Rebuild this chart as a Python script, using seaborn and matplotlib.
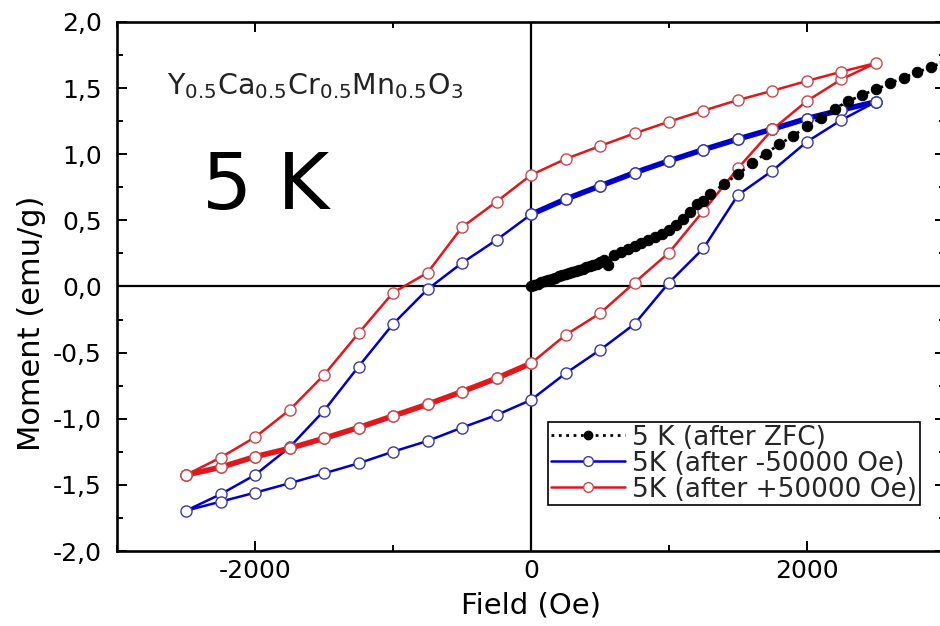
import matplotlib
matplotlib.use("Agg")
import matplotlib.pyplot as plt
from matplotlib.ticker import MultipleLocator, FuncFormatter
from matplotlib.lines import Line2D
import seaborn as sns
import pandas as pd

# ---------------- data ----------------
# ZFC virgin curve
zfc_x = [0, 25, 50, 75, 100, 125, 150, 175, 200, 225, 250, 275, 300, 325, 350,
         375, 400, 425, 450, 475, 500, 530, 557, 600, 650, 700, 750, 800, 850,
         900, 950, 1000, 1050, 1100, 1150, 1200, 1250, 1300, 1400, 1500, 1600,
         1700, 1800, 1900, 2000, 2100, 2200, 2300, 2400, 2500, 2600, 2700, 2800,
         2900, 3000]
zfc_y = [0.0, 0.010, 0.022, 0.032, 0.043, 0.050, 0.058, 0.067, 0.076, 0.084,
         0.093, 0.102, 0.110, 0.118, 0.127, 0.135, 0.145, 0.153, 0.163, 0.172,
         0.185, 0.200, 0.165, 0.235, 0.260, 0.283, 0.305, 0.326, 0.348, 0.372,
         0.400, 0.430, 0.465, 0.510, 0.560, 0.620, 0.645, 0.700, 0.775, 0.850,
         0.930, 1.005, 1.075, 1.140, 1.210, 1.275, 1.345, 1.400, 1.450, 1.490,
         1.535, 1.580, 1.620, 1.660, 1.700]

# after -50000 Oe (blue)
blue_init_x = [0, 250, 500, 750, 1000, 1250, 1500, 1750, 2000, 2250, 2500]
blue_init_y = [0.545, 0.660, 0.760, 0.860, 0.950, 1.035, 1.115, 1.190, 1.270, 1.335, 1.397]
blue_desc_x = [2500, 2250, 2000, 1750, 1500, 1250, 1000, 750, 500, 250, 0,
               -250, -500, -750, -1000, -1250, -1500, -1750, -2000, -2250, -2500]
blue_desc_y = [1.397, 1.335, 1.270, 1.190, 1.115, 1.035, 0.950, 0.860, 0.760, 0.660, 0.545,
               0.352, 0.178, -0.021, -0.284, -0.606, -0.939, -1.216, -1.425, -1.571, -1.695]
blue_asc_x = [-2500, -2250, -2000, -1750, -1500, -1250, -1000, -750, -500, -250, 0,
              250, 500, 750, 1000, 1250, 1500, 1750, 2000, 2250, 2500]
blue_asc_y = [-1.695, -1.627, -1.559, -1.488, -1.413, -1.337, -1.249, -1.168, -1.067, -0.972, -0.858,
              -0.657, -0.480, -0.284, 0.029, 0.289, 0.692, 0.876, 1.095, 1.259, 1.397]

# after +50000 Oe (red)
red_init_x = [0, -250, -500, -750, -1000, -1250, -1500, -1750, -2000, -2250, -2500]
red_init_y = [-0.581, -0.694, -0.795, -0.891, -0.979, -1.067, -1.148, -1.224, -1.287, -1.367, -1.425]
red_asc_x = [-2500, -2250, -2000, -1750, -1500, -1250, -1000, -750, -500, -250, 0,
             250, 500, 750, 1000, 1250, 1500, 1750, 2000, 2250, 2500]
red_asc_y = [-1.425, -1.367, -1.287, -1.224, -1.148, -1.067, -0.979, -0.891, -0.795, -0.694, -0.581,
             -0.367, -0.203, 0.029, 0.256, 0.573, 0.894, 1.188, 1.403, 1.567, 1.690]
red_desc_x = [2500, 2250, 2000, 1750, 1500, 1250, 1000, 750, 500, 250, 0,
              -250, -500, -750, -1000, -1250, -1500, -1750, -2000, -2250, -2500]
red_desc_y = [1.690, 1.624, 1.554, 1.480, 1.410, 1.330, 1.246, 1.158, 1.062, 0.964, 0.843,
              0.641, 0.448, 0.104, -0.047, -0.354, -0.669, -0.934, -1.140, -1.294, -1.425]

y_ticks = [-2.0, -1.5, -1.0, -0.5, 0.0, 0.5, 1.0, 1.5, 2.0]
x_ticks = [-2000, 0, 2000]
labels = ["5 K (after ZFC)", "5K (after -50000 Oe)", "5K (after +50000 Oe)"]

# ---------------- styling ----------------
sns.set_theme(style="ticks")
plt.rcParams["font.family"] = ["DejaVu Sans"]
plt.rcParams["axes.unicode_minus"] = False
plt.rcParams["mathtext.default"] = "regular"

BLUE = "#0000cc"
BLUE_M = "#3a3aa0"
RED = "#e3161b"
RED_M = "#c8484c"

fig = plt.figure(figsize=(9.4, 6.26), dpi=100)
ax = fig.add_axes([0.1245, 0.1198, 1.0053 - 0.1245, 0.9649 - 0.1198])

ax.axhline(0, color="black", lw=1.6, zorder=1)
ax.axvline(0, color="black", lw=1.6, zorder=1)


def loop(xs, ys, color, mec, lw, z):
    df = pd.DataFrame({"x": xs, "y": ys})
    sns.lineplot(data=df, x="x", y="y", sort=False, estimator=None, ax=ax,
                 color=color, lw=lw, marker="o", markersize=8,
                 markerfacecolor="white", markeredgecolor=mec,
                 markeredgewidth=1.0, zorder=z)


loop(blue_init_x, blue_init_y, BLUE, BLUE_M, 4.0, 3)
loop(blue_desc_x + blue_asc_x[1:], blue_desc_y + blue_asc_y[1:], BLUE, BLUE_M, 1.8, 3)
loop(red_init_x, red_init_y, RED, RED_M, 4.0, 3)
loop(red_asc_x + red_desc_x[1:], red_asc_y + red_desc_y[1:], RED, RED_M, 1.8, 3)

zdf = pd.DataFrame({"x": zfc_x, "y": zfc_y})
sns.lineplot(data=zdf, x="x", y="y", sort=False, estimator=None, ax=ax,
             color="black", lw=2.0, linestyle=":", marker="o", markersize=7.5,
             markerfacecolor="black", markeredgecolor="black", zorder=4)

ax.set_xlim(-3000, 3000)
ax.set_ylim(-2.0, 2.0)
ax.set_xticks(x_ticks)
ax.set_yticks(y_ticks)
ax.xaxis.set_minor_locator(MultipleLocator(1000))
ax.yaxis.set_minor_locator(MultipleLocator(0.25))
ax.yaxis.set_major_formatter(FuncFormatter(lambda v, p: f"{v:.1f}".replace(".", ",")))
ax.xaxis.set_major_formatter(FuncFormatter(lambda v, p: f"{v:.0f}"))

for s in ax.spines.values():
    s.set_linewidth(1.9)
    s.set_color("black")
ax.tick_params(which="both", direction="in", top=True, right=True,
               colors="black", width=1.4)
ax.tick_params(which="major", length=7, labelsize=18)
ax.tick_params(axis="y", which="major", pad=11)
ax.tick_params(axis="x", which="major", pad=6)
ax.tick_params(which="minor", length=4.5)

ax.set_xlabel("Field (Oe)", fontsize=21, labelpad=6, color="black")
ax.set_ylabel("Moment (emu/g)", fontsize=22, color="black")
ax.yaxis.set_label_coords(-0.086, 0.43)

ax.text(0.060, 0.878, r"$Y_{0.5}Ca_{0.5}Cr_{0.5}Mn_{0.5}O_{3}$",
        transform=ax.transAxes, fontsize=20.5, ha="left", va="center", color="#222222")
ax.text(0.179, 0.688, "5 K", transform=ax.transAxes, fontsize=57,
        ha="center", va="center", color="black")

handles = [
    Line2D([], [], color="black", lw=2.0, linestyle=":", marker="o", markersize=6,
           markerfacecolor="black", markeredgecolor="black"),
    Line2D([], [], color=BLUE, lw=1.8, marker="o", markersize=7,
           markerfacecolor="white", markeredgecolor=BLUE_M),
    Line2D([], [], color=RED, lw=1.8, marker="o", markersize=7,
           markerfacecolor="white", markeredgecolor=RED_M),
]
leg = ax.legend(handles, labels, loc="upper left", bbox_to_anchor=(0.5205, 0.2439),
                fontsize=19, frameon=True, fancybox=False, framealpha=1,
                edgecolor="black", borderpad=0.1, labelspacing=0.0,
                handlelength=2.8, handletextpad=0.3, borderaxespad=0, numpoints=1)
leg.get_frame().set_linewidth(1.2)

fig.savefig("out.png", dpi=100)
